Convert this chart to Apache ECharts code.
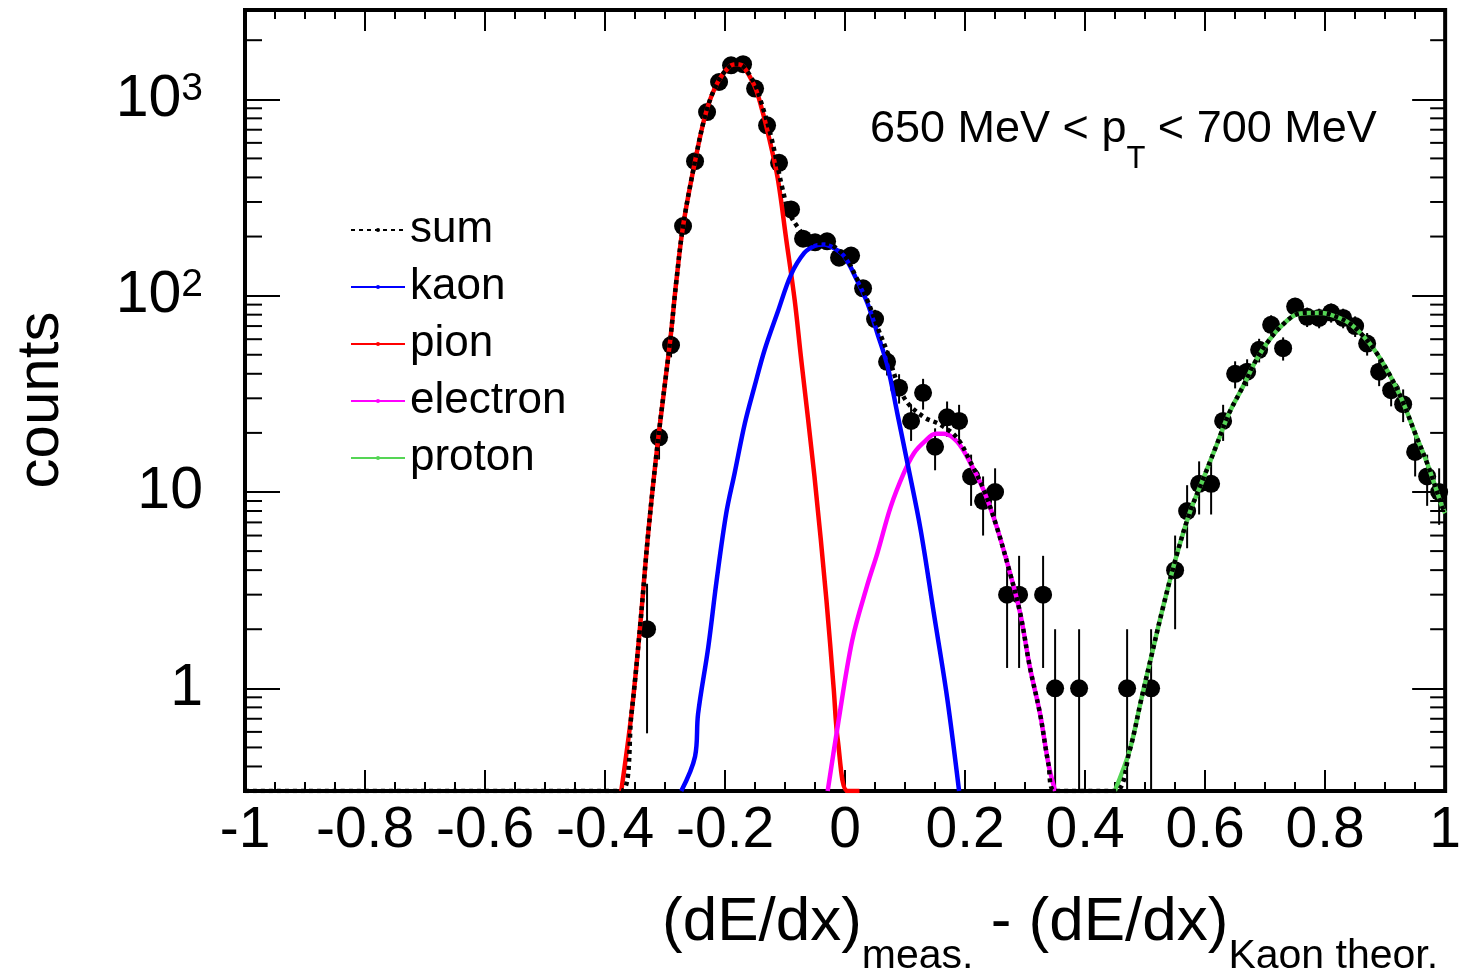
<!DOCTYPE html>
<html>
<head>
<meta charset="utf-8">
<title>dE/dx kaon fit</title>
<script src="https://cdn.jsdelivr.net/npm/echarts@6/dist/echarts.min.js"></script>
<style>
  html, body { margin: 0; padding: 0; background: #fff; }
  #chart { width: 1464px; height: 980px; }
</style>
</head>
<body>
<div id="chart"></div>
<script>
var FONT = "'Liberation Sans', Arial, Helvetica, sans-serif"
var Y_MIN = 0.3
var Y_MAX = 2850

// measured histogram: bin centre, counts, error
var binX = [-0.33, -0.31, -0.29, -0.27, -0.25, -0.23, -0.21, -0.19, -0.17, -0.15, -0.13, -0.11, -0.09, -0.07, -0.05, -0.03, -0.01,
  0.01, 0.03, 0.05, 0.07, 0.09, 0.11, 0.13, 0.15, 0.17, 0.19, 0.21, 0.23, 0.25, 0.27, 0.29, 0.33, 0.35, 0.39, 0.47, 0.51,
  0.55, 0.57, 0.59, 0.61, 0.63, 0.65, 0.67, 0.69, 0.71, 0.73, 0.75, 0.77, 0.79, 0.81, 0.83, 0.85, 0.87, 0.89, 0.91, 0.93, 0.95, 0.97, 0.99]
var counts = [2, 19, 56, 226, 484, 861, 1225, 1490, 1509, 1134, 737, 475, 275, 195, 187, 189, 156,
  160, 109, 76, 46, 34, 23, 32, 17, 24, 23, 12, 9, 10, 3, 3, 3, 1, 1, 1, 1,
  4, 8, 11, 11, 23, 40, 41, 53, 71, 54, 88, 78, 77, 82, 77, 70, 57, 41, 33, 28, 16, 12, 10]
var countErr = [1.41, 4.36, 7.5, 15, 22, 29.3, 35, 38.6, 38.8, 33.7, 27.1, 21.8, 16.6, 14, 13.7, 13.7, 12.5,
  12.6, 10.4, 8.7, 6.8, 5.8, 4.8, 5.7, 4.1, 4.9, 4.8, 3.5, 3, 3.2, 1.73, 1.73, 1.73, 1, 1, 1, 1,
  2, 2.83, 3.32, 3.32, 4.8, 6.3, 6.4, 7.3, 8.4, 7.3, 9.4, 8.8, 8.8, 9.1, 8.8, 8.4, 7.5, 6.4, 5.7, 5.3, 4, 3.5, 3.2]

// fitted components
var pionX = [-0.373, -0.356, -0.342, -0.328, -0.311, -0.292, -0.281, -0.270, -0.250, -0.231, -0.212, -0.192, -0.181, -0.170,
  -0.151, -0.140, -0.126, -0.112, -0.098, -0.084, -0.073, -0.051, -0.031, -0.019, -0.012, 0.004, 0.024]
var pionY = [0.3, 0.74, 2.0, 6.2, 19.2, 57, 120, 226, 484, 873, 1225, 1474, 1509, 1474,
  1170, 924, 624, 392, 193, 95, 47, 12, 2.8, 1.0, 0.54, 0.3, 0.3]

var kaonX = [-0.273, -0.250, -0.245, -0.228, -0.214, -0.198, -0.184, -0.167, -0.151, -0.134, -0.112, -0.090, -0.068, -0.051,
  -0.035, -0.018, -0.001, 0.018, 0.037, 0.054, 0.071, 0.087, 0.104, 0.126, 0.148, 0.170, 0.190]
var kaonY = [0.3, 0.45, 0.74, 1.62, 3.55, 7.8, 12.5, 22.4, 34.4, 53, 83, 128, 165, 179,
  182, 174, 158, 123, 92, 64, 43.5, 25.2, 14.0, 6.4, 2.4, 0.9, 0.3]

var electronX = [-0.029, -0.012, 0.012, 0.037, 0.054, 0.076, 0.098, 0.115, 0.132, 0.151, 0.165, 0.187, 0.209, 0.231,
  0.253, 0.275, 0.292, 0.308, 0.325, 0.339, 0.350]
var electronY = [0.3, 0.65, 1.76, 3.35, 4.9, 8.4, 12.5, 15.8, 18.0, 19.8, 19.8, 18.0, 14.0, 10.2,
  6.6, 3.85, 2.4, 1.28, 0.74, 0.41, 0.3]

var protonX = [0.4495, 0.474, 0.494, 0.510, 0.530, 0.552, 0.574, 0.596, 0.618, 0.640, 0.663, 0.685, 0.707, 0.729,
  0.751, 0.773, 0.795, 0.817, 0.840, 0.862, 0.884, 0.906, 0.928, 0.950, 0.972, 0.995, 1.0]
var protonY = [0.3, 0.48, 0.89, 1.44, 2.6, 4.7, 7.8, 11.5, 17, 25.2, 34.4, 47, 59.6, 71,
  80, 81.7, 81.7, 78.4, 72.5, 63, 52, 40.3, 29.5, 19.9, 13.5, 8.4, 7.8]

var sumX = [-1, -0.373, -0.356, -0.342, -0.328, -0.311, -0.292, -0.281, -0.270, -0.250, -0.231, -0.212, -0.192, -0.181, -0.170,
  -0.151, -0.140, -0.123, -0.104, -0.093, -0.076, -0.057, -0.032, -0.001, 0.018, 0.037, 0.054, 0.071, 0.087, 0.104,
  0.132, 0.159, 0.187, 0.209, 0.231, 0.253, 0.275, 0.292, 0.308, 0.325, 0.339, 0.350, 0.4495,
  0.474, 0.494, 0.510, 0.530, 0.552, 0.574, 0.596, 0.618, 0.640, 0.663, 0.685, 0.707, 0.729,
  0.751, 0.773, 0.795, 0.817, 0.840, 0.862, 0.884, 0.906, 0.928, 0.950, 0.972, 0.995, 1.0]
var sumY = [0.3, 0.3, 0.74, 2.0, 6.2, 19.2, 57, 120, 226, 484, 873, 1225, 1474, 1509, 1474,
  1204, 970, 640, 347, 264, 217, 186, 185, 159, 125, 95, 69, 51, 36, 28.5,
  24, 22, 18.8, 14.2, 10.3, 6.6, 3.85, 2.4, 1.28, 0.74, 0.41, 0.3, 0.3,
  0.48, 0.89, 1.44, 2.6, 4.7, 7.8, 11.5, 17, 25.2, 34.4, 47, 59.6, 71,
  80, 81.7, 81.7, 78.4, 72.5, 63, 52, 40.3, 29.5, 19.9, 13.5, 8.4, 7.8]

// y axis labels and log minor ticks
var yLabelValues = [1, 10, 100, 1000]
var yLabelText = ['{b|1}', '{b|10}', '{b|10}{p|2}', '{b|10}{p|3}']
var yMinorTicks = [0.4, 0.5, 0.6, 0.7, 0.8, 0.9, 2, 3, 4, 5, 6, 7, 8, 9, 20, 30, 40, 50, 60, 70, 80, 90,
  200, 300, 400, 500, 600, 700, 800, 900, 2000]

function pairs (xs, ys) {
  return xs.map(function (x, i) { return [x, ys[i]] })
}

function yLabel (v) {
  for (var i = 0; i < yLabelValues.length; i++) {
    if (Math.abs(v - yLabelValues[i]) < 1e-6 * yLabelValues[i]) return yLabelText[i]
  }
  return ''
}

function curve (name, xs, ys, color, z, dashed) {
  return {
    name: name,
    type: 'line',
    data: pairs(xs, ys),
    showSymbol: false,
    symbol: 'none',
    smooth: 0.35,
    z: z,
    lineStyle: { color: color, width: 4.5, type: dashed ? [4, 4] : 'solid' },
    itemStyle: { color: color }
  }
}

var xAxisBase = {
  type: 'value', min: -1, max: 1, interval: 0.2,
  axisLine: { show: false, onZero: false },
  splitLine: { show: false },
  axisTick: { inside: true, length: 21, lineStyle: { color: '#000', width: 2 } },
  minorTick: { show: true, splitNumber: 4, length: 9, lineStyle: { color: '#000', width: 2 } }
}

var yAxisBase = {
  type: 'log', logBase: 10, min: Y_MIN, max: Y_MAX,
  axisLine: { show: false, onZero: false },
  splitLine: { show: false },
  axisTick: { inside: true, length: 35, lineStyle: { color: '#000', width: 2 } }
}

var chart = echarts.init(document.getElementById('chart'))

chart.setOption({
  animation: false,
  backgroundColor: '#fff',
  grid: { left: 245, top: 10, width: 1205, height: 781, show: true, borderColor: '#000', borderWidth: 4, backgroundColor: 'transparent' },
  xAxis: [
    Object.assign({}, xAxisBase, {
      position: 'bottom',
      axisLabel: { margin: 12, color: '#000', fontSize: 57, fontFamily: FONT }
    }),
    Object.assign({}, xAxisBase, { position: 'top', axisLabel: { show: false } })
  ],
  yAxis: [
    Object.assign({}, yAxisBase, {
      position: 'left',
      axisLabel: {
        margin: 42, color: '#000', formatter: yLabel,
        rich: {
          b: { fontSize: 59, lineHeight: 59, fontFamily: FONT, color: '#000', verticalAlign: 'bottom' },
          p: { fontSize: 39, lineHeight: 39, fontFamily: FONT, color: '#000', verticalAlign: 'top', padding: [0, 0, 30, 0] }
        }
      }
    }),
    Object.assign({}, yAxisBase, { position: 'right', axisTick: { inside: true, length: 33, lineStyle: { color: '#000', width: 2 } }, axisLabel: { show: false } })
  ],
  legend: {
    orient: 'vertical', left: 345, top: 203,
    itemWidth: 54, itemHeight: 5, itemGap: 13,
    selectedMode: false,
    data: ['sum', 'kaon', 'pion', 'electron', 'proton'],
    textStyle: { fontSize: 44, color: '#000', fontFamily: FONT }
  },
  graphic: [
    {
      type: 'text', x: 41, y: 400, rotation: Math.PI / 2,
      style: { text: 'counts', fontSize: 60, fontFamily: FONT, fill: '#000', align: 'center', verticalAlign: 'middle' }
    },
    {
      type: 'text', x: 870, y: 107,
      style: {
        text: '{a|650 MeV < p}{t|T}{a| < 700 MeV}', verticalAlign: 'top', fill: '#000',
        rich: {
          a: { fontSize: 45, lineHeight: 45, fontFamily: FONT, fill: '#000', verticalAlign: 'top' },
          t: { fontSize: 31, lineHeight: 31, fontFamily: FONT, fill: '#000', verticalAlign: 'top', padding: [37, 0, 0, 0] }
        }
      }
    },
    {
      type: 'text', x: 662, y: 892,
      style: {
        text: '{m|(dE/dx)}{s|meas.}{m| - (dE/dx)}{s|Kaon theor.}', verticalAlign: 'top', fill: '#000',
        rich: {
          m: { fontSize: 62, lineHeight: 62, fontFamily: FONT, fill: '#000', verticalAlign: 'top' },
          s: { fontSize: 41, lineHeight: 41, fontFamily: FONT, fill: '#000', verticalAlign: 'top', padding: [44, 0, 0, 0] }
        }
      }
    }
  ],
  series: [
    {
      // log minor ticks on both sides of the frame
      name: 'yminor',
      type: 'custom',
      silent: true,
      clip: false,
      z: 6,
      data: yMinorTicks.map(function (v) { return [0, v] }),
      encode: { x: 0, y: 1 },
      renderItem: function (params, api) {
        var v = api.value(1)
        var l = api.coord([-1, v])
        var r = api.coord([1, v])
        var st = { stroke: '#000', lineWidth: 2 }
        return {
          type: 'group',
          children: [
            { type: 'line', shape: { x1: l[0], y1: l[1], x2: l[0] + 17, y2: l[1] }, style: st },
            { type: 'line', shape: { x1: r[0] - 15, y1: r[1], x2: r[0], y2: r[1] }, style: st }
          ]
        }
      }
    },
    {
      name: 'errors',
      type: 'custom',
      silent: true,
      z: 2,
      data: binX.map(function (x, i) { return [x, counts[i], countErr[i]] }),
      encode: { x: 0, y: 1 },
      renderItem: function (params, api) {
        var x = api.value(0)
        var v = api.value(1)
        var e = api.value(2)
        var lo = api.coord([x, Math.max(v - e, Y_MIN)])
        var hi = api.coord([x, v + e])
        return {
          type: 'line',
          shape: { x1: lo[0], y1: lo[1], x2: hi[0], y2: hi[1] },
          style: { stroke: '#000', lineWidth: 2 }
        }
      }
    },
    {
      name: 'data',
      type: 'scatter',
      z: 3,
      symbol: 'circle',
      symbolSize: 18,
      itemStyle: { color: '#000', opacity: 1 },
      data: pairs(binX, counts)
    },
    curve('pion', pionX, pionY, '#ff0000', 4),
    curve('electron', electronX, electronY, '#ff00ff', 4),
    curve('kaon', kaonX, kaonY, '#0000ff', 4),
    curve('proton', protonX, protonY, '#55d555', 4),
    curve('sum', sumX, sumY, '#000000', 5, true)
  ]
})
</script>
</body>
</html>
